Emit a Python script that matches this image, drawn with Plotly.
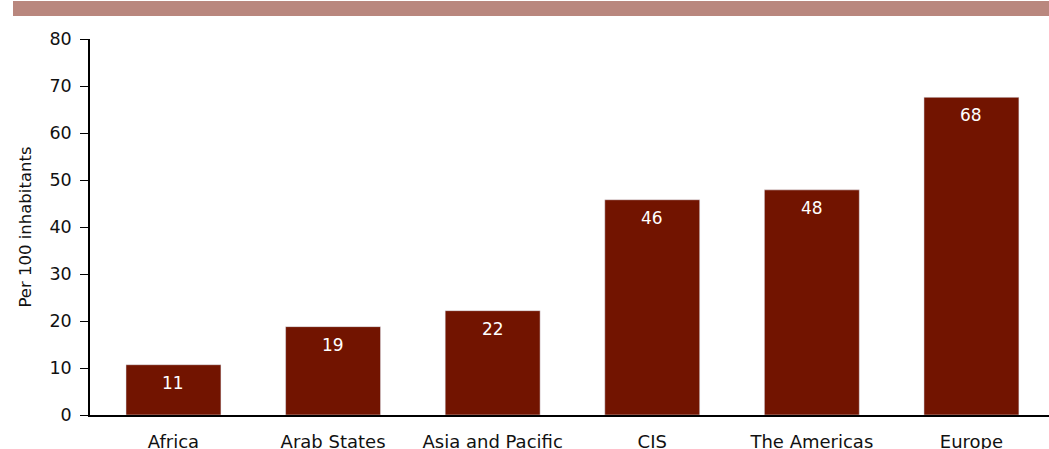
import plotly.graph_objects as go

categories = ["Africa", "Arab States", "Asia and Pacific", "CIS", "The Americas", "Europe"]
values = [10.7, 18.8, 22.2, 45.8, 47.9, 67.6]
labels = ["11", "19", "22", "46", "48", "68"]

W, H = 1049, 449
ML, MR, MT, MB = 90, 0, 39, 34
pw = W - ML - MR
ph = H - MT - MB

FONT = "DejaVu Sans"
BAR = "#721400"

fig = go.Figure()
fig.add_trace(go.Bar(
    x=categories, y=values, marker_color=BAR, width=0.595,
    hoverinfo="skip", showlegend=False,
))

for c, v, t in zip(categories, values, labels):
    fig.add_annotation(x=c, y=v, text=t, showarrow=False, yanchor="top", yshift=-6,
                       font=dict(family=FONT, size=17, color="white"))

# top band
fig.add_shape(type="rect", xref="paper", yref="paper",
              x0=(13 - ML) / pw, x1=(W - ML) / pw,
              y0=(H - MB - 16) / ph, y1=(H - MB - 1) / ph,
              fillcolor="#b9877e", line=dict(width=0), layer="above")

fig.update_layout(
    width=W, height=H,
    margin=dict(l=ML, r=MR, t=MT, b=MB, pad=0),
    plot_bgcolor="white", paper_bgcolor="white",
    font=dict(family=FONT, size=17, color="#111111"),
    bargap=0.4,
    xaxis=dict(range=[-0.523, 5.486], showline=True, linecolor="black", linewidth=2,
               ticks="", showgrid=False, zeroline=False, automargin=False,
               tickfont=dict(size=18), ticklabelstandoff=9),
    yaxis=dict(range=[0, 80], dtick=10, showline=True, linecolor="black", linewidth=1.5,
               ticks="outside", ticklen=8, tickcolor="black", showgrid=False, zeroline=False,
               automargin=False, tickfont=dict(size=17.5), ticklabelstandoff=5,
               title=dict(text="Per 100 inhabitants", font=dict(size=16.5), standoff=14)),
)

fig.write_html("out.html", config={"displayModeBar": False},
               post_script="document.body.style.margin='0';document.body.style.overflow='hidden';")
